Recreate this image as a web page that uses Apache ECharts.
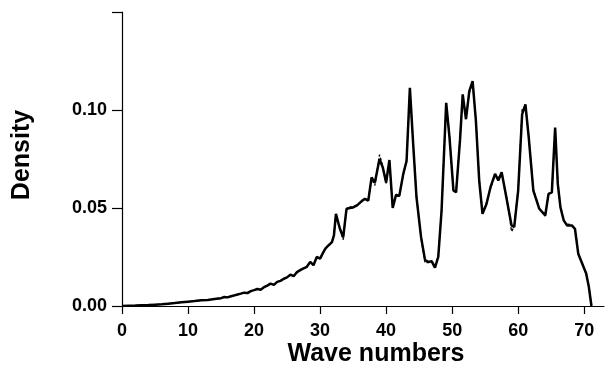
<!DOCTYPE html>
<html>
<head>
<meta charset="utf-8">
<script src="https://cdn.jsdelivr.net/npm/echarts@6/dist/echarts.min.js"></script>
<style>html,body{margin:0;padding:0;background:#fff}#c{width:605px;height:366px}</style>
</head>
<body>
<div id="c"></div>
<script>
var waveNumbers = [0,2,4,5,6,7,8,9,10,11,12,13,14,15,15.5,16,16.5,17,17.5,18,18.5,19,19.5,20,20.5,21,21.5,22,22.5,23,23.5,24,24.5,25,25.5,26,26.5,27,27.5,28,28.5,29,29.5,30,30.5,30.8,31.3,31.8,32.1,32.4,33,33.5,34,34.5,35,35.6,36.3,36.8,37.3,37.8,38.3,39,39.5,40,40.5,41,41.5,42,42.6,43.1,43.6,44.1,44.6,45.3,45.9,46.4,46.9,47.4,47.9,48.4,49.1,49.6,50.2,50.6,51.2,51.6,52.1,52.6,53.1,53.6,54.1,54.6,55.2,55.8,56.5,57,57.5,58.3,59,59.4,60,60.6,61.1,61.6,62.3,63.2,64.1,64.6,65.1,65.6,66,66.4,66.9,67.4,68.1,68.6,69.1,69.8,70.3,70.7,71.1];
var densitySolid = [0,0.0002,0.0005,0.0007,0.0009,0.0012,0.0015,0.0019,0.0022,0.0025,0.0029,0.0031,0.0036,0.004,0.0046,0.0044,0.005,0.0054,0.0059,0.0063,0.0068,0.0066,0.0076,0.0081,0.0087,0.0083,0.0096,0.0104,0.0114,0.0108,0.0123,0.0128,0.0139,0.0146,0.016,0.0152,0.0173,0.0183,0.0192,0.02,0.0225,0.0208,0.025,0.0242,0.0275,0.0293,0.031,0.0326,0.036,0.047,0.0394,0.035,0.0496,0.05,0.0503,0.0513,0.0535,0.0547,0.0538,0.0656,0.063,0.075,0.0707,0.063,0.0745,0.05,0.0566,0.0563,0.0674,0.074,0.1113,0.0826,0.0555,0.035,0.0234,0.0225,0.0228,0.0196,0.025,0.0487,0.1037,0.086,0.0589,0.058,0.085,0.108,0.0953,0.1096,0.1147,0.0944,0.064,0.047,0.052,0.0605,0.0674,0.064,0.0682,0.0538,0.0411,0.0403,0.0589,0.0978,0.1029,0.086,0.0589,0.0496,0.0462,0.0572,0.058,0.091,0.0623,0.0504,0.0437,0.0411,0.0411,0.0394,0.0267,0.0208,0.0166,0.0098,0];
var densityDashed = [0,0.0002,0.0005,0.0007,0.0009,0.0012,0.0015,0.0018,0.0022,0.0026,0.0028,0.0032,0.0035,0.0041,0.0045,0.0045,0.0049,0.0055,0.0058,0.0064,0.0067,0.0068,0.0074,0.0082,0.0085,0.0085,0.0094,0.0105,0.0112,0.011,0.0121,0.013,0.0137,0.0148,0.0157,0.0155,0.017,0.0185,0.019,0.0203,0.0222,0.0212,0.0246,0.0245,0.0272,0.0296,0.0308,0.0329,0.0365,0.0462,0.04,0.0338,0.049,0.0505,0.0506,0.0516,0.0532,0.055,0.054,0.0648,0.0615,0.0772,0.0712,0.0625,0.0738,0.0505,0.057,0.056,0.0668,0.0745,0.1105,0.083,0.056,0.0345,0.022,0.0222,0.023,0.0208,0.0255,0.049,0.103,0.0866,0.0592,0.0585,0.0855,0.1072,0.0958,0.1088,0.114,0.095,0.0645,0.0478,0.0525,0.0598,0.0668,0.0655,0.0676,0.0545,0.038,0.0405,0.0595,0.1002,0.102,0.0865,0.0595,0.0498,0.0458,0.0576,0.0578,0.0895,0.0635,0.051,0.0435,0.0418,0.0415,0.0398,0.027,0.021,0.0162,0.0102,0];
var xTicks = [0,10,20,30,40,50,60,70];
var yTicks = [0,0.05,0.10,0.15];

function pairs(xs, ys){ var r=[]; for(var i=0;i<xs.length;i++){ r.push([xs[i], ys[i]]); } return r; }

var FONT = 'Liberation Sans';
var chart = echarts.init(document.getElementById('c'), null, {renderer:'canvas'});
chart.setOption({
  animation:false,
  backgroundColor:'#fff',
  grid:{left:122, right:1, top:12, bottom:60, containLabel:false},
  xAxis:{
    type:'value', min:0, max:73,
    axisLine:{show:true, lineStyle:{color:'#000', width:1.2}},
    axisTick:{show:true, inside:false, length:8, lineStyle:{color:'#000', width:1.2}, customValues:xTicks},
    axisLabel:{show:true, margin:16, color:'#000', fontFamily:FONT, fontWeight:'bold', fontSize:18, customValues:xTicks},
    splitLine:{show:false}
  },
  yAxis:{
    type:'value', min:0, max:0.15, interval:0.05,
    axisLine:{show:true, lineStyle:{color:'#000', width:1.2}},
    axisTick:{show:true, inside:false, length:10, lineStyle:{color:'#000', width:1.2}, customValues:yTicks},
    axisLabel:{show:true, margin:15, color:'#000', fontFamily:FONT, fontWeight:'bold', fontSize:18,
      customValues:yTicks,
      formatter:function(v){ return v > 0.12 ? '' : v.toFixed(2); }},
    splitLine:{show:false}
  },
  series:[
    {type:'line', data:pairs(waveNumbers, densitySolid), symbol:'none', smooth:false,
     lineStyle:{color:'#000', width:2.5}, z:2},
    {type:'line', data:pairs(waveNumbers, densityDashed), symbol:'none', smooth:false,
     lineStyle:{color:'#000', width:1.3, type:[3,2]}, z:3}
  ],
  graphic:[
    {type:'text', x:22, y:155, rotation:Math.PI/2,
     style:{text:'Density', font:'bold 25px "Liberation Sans"', fill:'#000', textAlign:'center', textVerticalAlign:'middle'}},
    {type:'text', x:376, y:354,
     style:{text:'Wave numbers', font:'bold 25px "Liberation Sans"', fill:'#000', textAlign:'center', textVerticalAlign:'middle'}}
  ]
});
</script>
</body>
</html>
